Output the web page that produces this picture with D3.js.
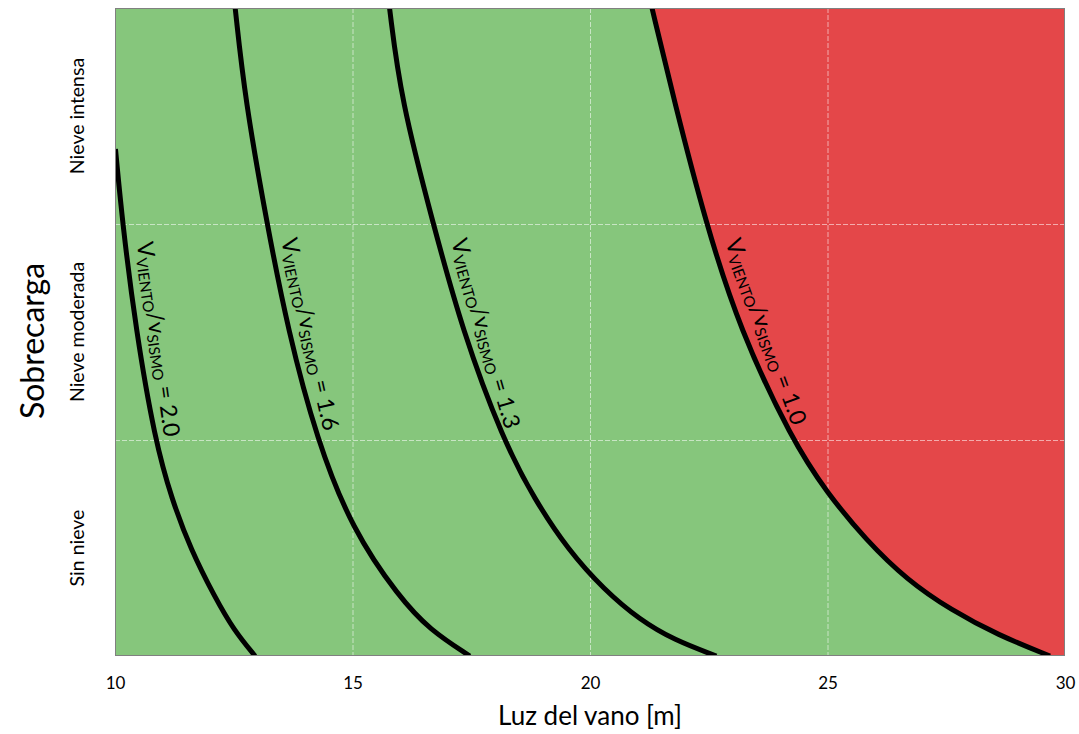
<!DOCTYPE html>
<html><head><meta charset="utf-8">
<script src="https://cdn.jsdelivr.net/npm/d3@7"></script>
<style>body{margin:0;background:#fff}svg text{font-family:Lato,"Open Sans",sans-serif;fill:#000}</style>
</head><body><svg id="c" width="1079" height="734"></svg>
<script>
// ---- data ----
const snowCategories = ["Sin nieve", "Nieve moderada", "Nieve intensa"];
const spanTicks = [10, 15, 20, 25, 30];
const ratioValues = ["2.0", "1.6", "1.3", "1.0"];
// [span (m), overload level (0 = bottom, 3 = top)]
const curve20 = [[10.01,2.347],[10.16,2.0],[10.44,1.509],[10.84,1.0],[11.2,0.722],[11.6,0.491],[12.1,0.273],[12.5,0.120],[12.95,0]];
const curve16 = [[12.53,3.0],[12.74,2.574],[13.2,2.0],[13.64,1.509],[14.25,1.0],[15.0,0.583],[15.98,0.273],[16.63,0.120],[17.47,0]];
const curve13 = [[15.78,3.0],[16.02,2.574],[16.7,2.0],[17.31,1.509],[18.17,1.0],[18.84,0.722],[19.54,0.491],[20.3,0.306],[21.05,0.167],[21.77,0.074],[22.66,0]];
const curve10 = [[21.305,3.0],[21.768,2.574],[22.442,2.0],[23.158,1.509],[24.253,1.0],[24.989,0.755],[25.811,0.537],[26.674,0.352],[27.6,0.213],[28.589,0.097],[29.684,0]];
const curves = [curve20, curve16, curve13, curve10];

// ---- label placement (x, y in data units, angle in degrees) ----
const labelPlacement = [
  {x: 10.46, y: 1.912, angle: 82},
  {x: 13.495, y: 1.926, angle: 77.5},
  {x: 17.074, y: 1.92, angle: 74},
  {x: 22.842, y: 1.917, angle: 70}
];

const svg = d3.select("#c");
const L = 115, R = 1065, T = 8, B = 656;
const x = d3.scaleLinear().domain([10, 30]).range([L, R]);
const y = d3.scaleLinear().domain([0, 3]).range([B, T]);
const band = d3.scaleBand().domain(snowCategories.slice().reverse()).range([T, B]);

svg.append("defs").append("clipPath").attr("id", "plot")
  .append("rect").attr("x", L).attr("y", T).attr("width", R - L).attr("height", B - T);

const GREEN = "#86c67c", RED = "#e44749";
const plot = svg.append("g").attr("clip-path", "url(#plot)");
plot.append("rect").attr("x", L).attr("y", T).attr("width", R - L).attr("height", B - T).attr("fill", GREEN);

const lineGen = d3.line().x(d => x(d[0])).y(d => y(d[1])).curve(d3.curveBasis);
plot.append("path")
  .attr("d", lineGen(curve10) + `L${x(30)},${y(0)}L${x(30)},${y(3)}Z`)
  .attr("fill", RED);

// gridlines
const grid = plot.append("g").attr("stroke", "#ffffff").attr("stroke-opacity", 0.55)
  .attr("stroke-width", 1).attr("stroke-dasharray", "5,2");
grid.selectAll("line.v").data(spanTicks.slice(1, -1)).join("line")
  .attr("x1", d => x(d) + 0.5).attr("x2", d => x(d) + 0.5).attr("y1", T).attr("y2", B);
grid.selectAll("line.h").data(snowCategories.slice(1)).join("line")
  .attr("x1", L).attr("x2", R)
  .attr("y1", d => Math.round(band(d) + band.bandwidth()) + 0.5)
  .attr("y2", d => Math.round(band(d) + band.bandwidth()) + 0.5);

// curves
plot.selectAll("path.curve").data(curves).join("path").attr("class", "curve")
  .attr("d", lineGen).attr("fill", "none").attr("stroke", "#000").attr("stroke-width", 5);

// border
svg.append("rect").attr("x", L + 0.5).attr("y", T + 0.5).attr("width", R - L - 1).attr("height", B - T - 1)
  .attr("fill", "none").attr("stroke", "#808080").attr("stroke-width", 1);

// curve labels
const BIG = 23, SMALL = 15;
labelPlacement.forEach((p, i) => {
  const t = svg.append("text")
    .attr("transform", `translate(${x(p.x)},${y(p.y)}) rotate(${p.angle})`)
    .attr("font-size", BIG);
  t.append("tspan").text("V");
  t.append("tspan").attr("font-size", SMALL).attr("dy", 3).text("VIENTO");
  t.append("tspan").attr("dy", -3).text("/");
  t.append("tspan").text("v");
  t.append("tspan").attr("font-size", SMALL).attr("dy", 3).text("SISMO");
  t.append("tspan").attr("dy", -3).text(" = " + ratioValues[i]);
});

// x axis
const xAxis = svg.append("g").attr("transform", `translate(0,${B})`)
  .call(d3.axisBottom(x).tickValues(spanTicks).tickFormat(d3.format("d")).tickSize(0).tickPadding(21));
xAxis.select(".domain").remove();
xAxis.selectAll("text").attr("font-size", 17).style("font-family", "Lato").attr("fill", "#000");

// y axis
const yAxis = svg.append("g").attr("transform", `translate(${L},0)`)
  .call(d3.axisLeft(band).tickSize(0));
yAxis.select(".domain").remove();
yAxis.selectAll("text")
  .attr("x", null).attr("dy", null)
  .attr("text-anchor", "middle")
  .attr("transform", "translate(-31,0) rotate(-90)")
  .attr("font-size", 19.5).style("font-family", "Lato").attr("fill", "#000");

// titles
svg.append("text").attr("x", (L + R) / 2).attr("y", 725).attr("text-anchor", "middle")
  .attr("font-size", 26).text("Luz del vano [m]");
svg.append("text").attr("transform", "translate(44,341) rotate(-90)").attr("text-anchor", "middle")
  .attr("font-size", 32).text("Sobrecarga");
</script></body></html>
